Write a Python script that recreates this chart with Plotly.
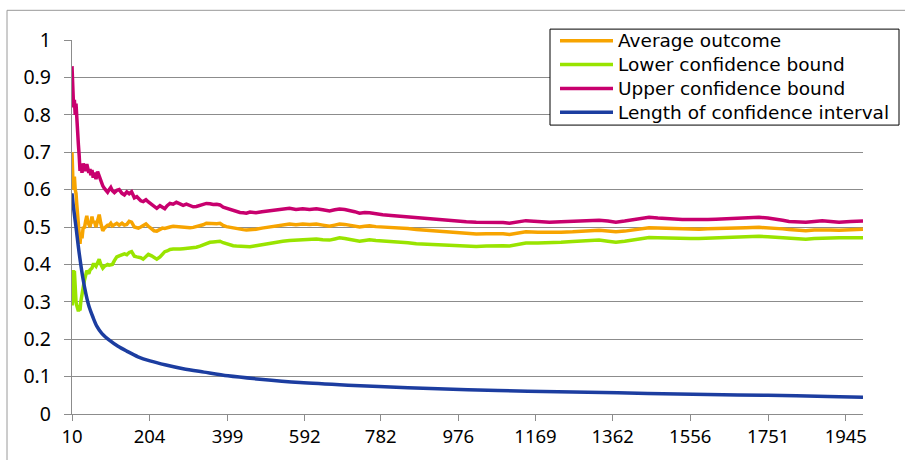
import plotly.graph_objects as go

# Number of trials at each recorded step
trials = [
    10, 11, 12, 13, 14, 16, 18, 20, 22, 24,
    26, 28, 30, 32, 35, 38, 41, 44, 47, 49,
    52, 55, 57, 60, 63, 66, 70, 74, 78, 82,
    87, 91, 95, 99, 103, 107, 111, 116, 122, 128,
    135, 141, 147, 153, 159, 166, 172, 176, 182, 188,
    195, 201, 209, 215, 222, 230, 236, 242, 248, 255,
    263, 271, 280, 288, 296, 305, 313, 321, 330, 338,
    346, 355, 363, 372, 380, 388, 396, 404, 413, 421,
    430, 438, 446, 455, 470, 485, 504, 520, 537, 554,
    570, 587, 604, 621, 637, 654, 667, 679, 692, 704,
    717, 729, 742, 754, 770, 787, 808, 829, 850, 871,
    896, 921, 946, 971, 996, 1021, 1046, 1071, 1088, 1104,
    1125, 1145, 1175, 1204, 1233, 1262, 1295, 1328, 1350, 1370,
    1392, 1412, 1433, 1453, 1475, 1495, 1515, 1536, 1557, 1578,
    1600, 1620, 1640, 1661, 1695, 1728, 1750, 1770, 1787, 1803,
    1825, 1845, 1866, 1886, 1907, 1928, 1957, 1988,
]

average_outcome = [
    0.70, 0.62, 0.65, 0.60, 0.62, 0.635, 0.60, 0.59, 0.56, 0.53,
    0.506, 0.463, 0.455, 0.48, 0.47, 0.50, 0.497, 0.515, 0.53, 0.515,
    0.508, 0.50, 0.512, 0.528, 0.51, 0.516, 0.50, 0.515, 0.533, 0.51,
    0.49, 0.497, 0.50, 0.505, 0.505, 0.51, 0.503, 0.506, 0.51, 0.505,
    0.51, 0.505, 0.507, 0.515, 0.513, 0.50, 0.497, 0.497, 0.50, 0.503,
    0.508, 0.502, 0.494, 0.49, 0.489, 0.494, 0.497, 0.496, 0.499, 0.50,
    0.502, 0.501, 0.50, 0.498, 0.499, 0.498, 0.499, 0.501, 0.503, 0.506,
    0.51, 0.509, 0.508, 0.509, 0.51, 0.504, 0.501, 0.499, 0.497, 0.495,
    0.494, 0.493, 0.492, 0.492, 0.494, 0.497, 0.50, 0.503, 0.506, 0.508,
    0.506, 0.508, 0.507, 0.508, 0.505, 0.502, 0.505, 0.508, 0.507, 0.505,
    0.502, 0.50, 0.502, 0.503, 0.501, 0.50, 0.499, 0.498, 0.496, 0.493,
    0.491, 0.49, 0.488, 0.486, 0.484, 0.481, 0.482, 0.483, 0.482, 0.48,
    0.484, 0.487, 0.486, 0.485, 0.486, 0.487, 0.489, 0.491, 0.489, 0.487,
    0.489, 0.492, 0.495, 0.498, 0.497, 0.496, 0.495, 0.495, 0.494, 0.494,
    0.495, 0.496, 0.497, 0.497, 0.498, 0.499, 0.498, 0.497, 0.495, 0.493,
    0.491, 0.49, 0.492, 0.493, 0.492, 0.491, 0.493, 0.494,
]

lower_bound = [
    0.35, 0.29, 0.33, 0.385, 0.36, 0.383, 0.33, 0.30, 0.29, 0.285,
    0.275, 0.28, 0.277, 0.30, 0.32, 0.345, 0.357, 0.37, 0.383, 0.38,
    0.375, 0.385, 0.386, 0.39, 0.40, 0.40, 0.395, 0.405, 0.414, 0.40,
    0.39, 0.395, 0.398, 0.40, 0.398, 0.40, 0.40, 0.41, 0.42, 0.423,
    0.425, 0.428, 0.426, 0.432, 0.434, 0.422, 0.42, 0.42, 0.418, 0.414,
    0.42, 0.427, 0.423, 0.418, 0.414, 0.42, 0.427, 0.434, 0.436, 0.44,
    0.441, 0.44, 0.441, 0.442, 0.443, 0.442, 0.444, 0.446, 0.449, 0.453,
    0.457, 0.459, 0.46, 0.461, 0.462, 0.458, 0.455, 0.452, 0.45, 0.449,
    0.448, 0.447, 0.446, 0.447, 0.45, 0.453, 0.455, 0.459, 0.462, 0.464,
    0.465, 0.467, 0.467, 0.468, 0.466, 0.465, 0.468, 0.471, 0.469, 0.467,
    0.464, 0.462, 0.464, 0.466, 0.464, 0.463, 0.462, 0.461, 0.458, 0.455,
    0.454, 0.453, 0.451, 0.449, 0.449, 0.448, 0.449, 0.451, 0.45, 0.449,
    0.453, 0.457, 0.457, 0.457, 0.459, 0.461, 0.463, 0.465, 0.462, 0.459,
    0.462, 0.465, 0.469, 0.472, 0.471, 0.47, 0.469, 0.469, 0.469, 0.469,
    0.47, 0.47, 0.472, 0.473, 0.474, 0.475, 0.474, 0.473, 0.471, 0.47,
    0.468, 0.467, 0.469, 0.47, 0.471, 0.471, 0.471, 0.471,
]

upper_bound = [
    0.93, 0.88, 0.90, 0.84, 0.82, 0.84, 0.80, 0.83, 0.78, 0.75,
    0.72, 0.69, 0.65, 0.665, 0.645, 0.67, 0.66, 0.65, 0.668, 0.655,
    0.645, 0.655, 0.638, 0.652, 0.632, 0.645, 0.628, 0.648, 0.635, 0.62,
    0.61, 0.603, 0.598, 0.593, 0.60, 0.606, 0.597, 0.592, 0.598, 0.60,
    0.59, 0.586, 0.594, 0.589, 0.594, 0.578, 0.581, 0.576, 0.57, 0.568,
    0.573, 0.567, 0.561, 0.556, 0.55, 0.557, 0.552, 0.549, 0.557, 0.563,
    0.561, 0.566, 0.562, 0.558, 0.561, 0.557, 0.554, 0.555, 0.558, 0.561,
    0.563, 0.562, 0.56, 0.561, 0.559, 0.553, 0.55, 0.548, 0.546, 0.542,
    0.539, 0.538, 0.537, 0.54, 0.538, 0.541, 0.543, 0.545, 0.548, 0.55,
    0.547, 0.549, 0.547, 0.549, 0.546, 0.543, 0.546, 0.548, 0.547, 0.545,
    0.541, 0.537, 0.539, 0.538, 0.535, 0.533, 0.531, 0.529, 0.528, 0.526,
    0.522, 0.519, 0.517, 0.516, 0.514, 0.513, 0.513, 0.514, 0.512, 0.51,
    0.514, 0.517, 0.515, 0.513, 0.514, 0.515, 0.517, 0.518, 0.516, 0.513,
    0.516, 0.519, 0.523, 0.526, 0.524, 0.522, 0.521, 0.52, 0.52, 0.519,
    0.52, 0.521, 0.522, 0.522, 0.524, 0.526, 0.524, 0.522, 0.518, 0.515,
    0.514, 0.513, 0.515, 0.517, 0.515, 0.513, 0.515, 0.516,
]

# Width of the confidence interval, recorded at coarser steps
interval_trials = [
    10, 14, 20, 28, 37, 45, 53, 62, 72, 85,
    105, 125, 147, 175, 205, 245, 288, 340, 400, 480,
    580, 700, 850, 1000, 1150, 1300, 1450, 1600, 1750, 1900,
    1988,
]
interval_length = [
    0.59, 0.55, 0.50, 0.43, 0.365, 0.32, 0.286, 0.26, 0.235, 0.215,
    0.196, 0.181, 0.168, 0.153, 0.142, 0.131, 0.121, 0.112, 0.102, 0.093,
    0.084, 0.077, 0.07, 0.065, 0.061, 0.058, 0.055, 0.052, 0.05, 0.047,
    0.045,
]

series_names = [
    "Average outcome",
    "Lower confidence bound",
    "Upper confidence bound",
    "Length of confidence interval",
]
series_colors = ["#F7A400", "#99E400", "#C8006E", "#1C3DA0"]

x_tick_labels = [10, 204, 399, 592, 782, 976, 1169, 1362, 1556, 1751, 1945]
y_ticks = [0, 0.1, 0.2, 0.3, 0.4, 0.5, 0.6, 0.7, 0.8, 0.9, 1]

FONT = "Noto Sans"
LEGEND_FONT = "DejaVu Sans"
GRID = "#8C8C8C"
W, H = 905, 460
PLOT_L, PLOT_R, PLOT_T, PLOT_B = 72, 863, 40, 418


def paper_x(px):
    return (px - PLOT_L) / (PLOT_R - PLOT_L)


def paper_y(py):
    return (PLOT_B - py) / (PLOT_B - PLOT_T)


fig = go.Figure()

series_values = [average_outcome, lower_bound, upper_bound]
for name, color, values in zip(series_names[:3], series_colors[:3], series_values):
    fig.add_trace(go.Scatter(
        x=trials, y=values, mode="lines", name=name,
        line=dict(color=color, width=3.5),
        showlegend=False,
    ))

fig.add_trace(go.Scatter(
    x=interval_trials, y=interval_length, mode="lines", name=series_names[3],
    line=dict(color=series_colors[3], width=3.5, shape="spline", smoothing=0.8),
    showlegend=False,
))

shapes = []
# chart area border
shapes.append(dict(
    type="rect", xref="paper", yref="paper", layer="below",
    x0=paper_x(7), x1=paper_x(1100), y0=paper_y(700), y1=paper_y(10),
    line=dict(color="#9A9A9A", width=1), fillcolor="rgba(0,0,0,0)",
))

# legend box
LEG_L, LEG_R, LEG_T, LEG_B = 550, 899, 29, 126
shapes.append(dict(
    type="rect", xref="paper", yref="paper", layer="above",
    x0=paper_x(LEG_L), x1=paper_x(LEG_R), y0=paper_y(LEG_B), y1=paper_y(LEG_T),
    line=dict(color="#000000", width=1), fillcolor="#FFFFFF",
))

annotations = []
row_y0, row_step = 40.7, 24.1
for i, (name, color) in enumerate(zip(series_names, series_colors)):
    ry = row_y0 + i * row_step
    shapes.append(dict(
        type="line", xref="paper", yref="paper", layer="above",
        x0=paper_x(560), x1=paper_x(613), y0=paper_y(ry), y1=paper_y(ry),
        line=dict(color=color, width=3.5),
    ))
    annotations.append(dict(
        xref="paper", yref="paper", x=paper_x(616), y=paper_y(ry),
        xanchor="left", yanchor="middle", showarrow=False,
        text=name, font=dict(family=LEGEND_FONT, size=18.5, color="#000000"),
    ))

fig.update_layout(
    width=W, height=H,
    margin=dict(l=PLOT_L, r=W - PLOT_R, t=PLOT_T, b=H - PLOT_B, pad=0),
    paper_bgcolor="#FFFFFF", plot_bgcolor="#FFFFFF",
    font=dict(family=FONT, size=19, color="#000000"),
    showlegend=False,
    shapes=shapes,
    annotations=annotations,
)

fig.update_xaxes(
    range=[10, 1988],
    tickmode="array", tickvals=x_tick_labels,
    ticktext=[str(v) for v in x_tick_labels],
    showgrid=False, zeroline=False,
    showline=True, linecolor=GRID, linewidth=1.3,
    ticks="outside", ticklen=6, tickcolor=GRID, tickwidth=1,
    tickfont=dict(family=FONT, size=18.5, color="#000000"),
)
fig.update_yaxes(
    range=[0, 1],
    tickmode="array", tickvals=y_ticks,
    ticktext=[f"{v:g}" for v in y_ticks],
    showgrid=True, gridcolor=GRID, gridwidth=1.3,
    zeroline=False,
    showline=True, linecolor=GRID, linewidth=1.3,
    ticks="outside", ticklen=7, tickcolor=GRID, tickwidth=1,
    ticklabelstandoff=9,
    tickfont=dict(family=FONT, size=19.5, color="#000000"),
)

fig.write_html("out.html")
